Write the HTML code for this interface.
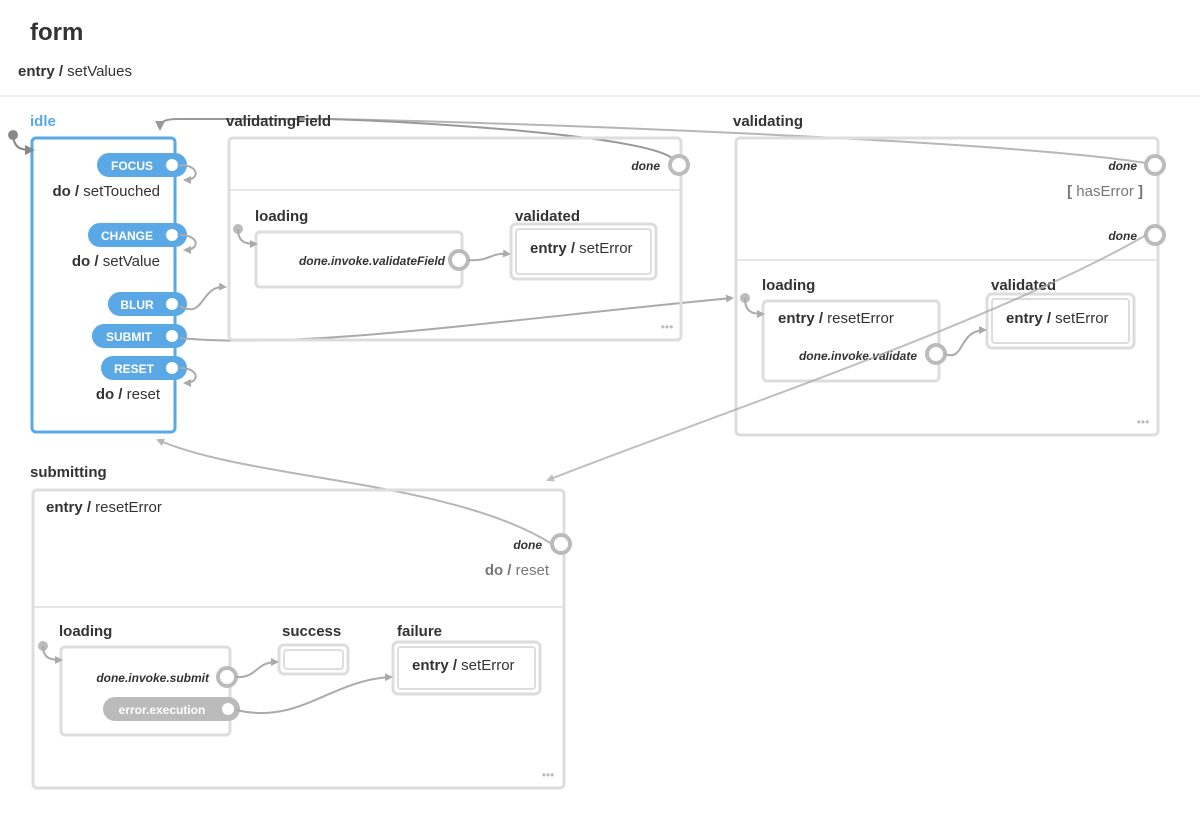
<!DOCTYPE html>
<html><head><meta charset="utf-8"><style>
body{margin:0;background:#fff;width:1200px;height:821px;overflow:hidden;font-family:"Liberation Sans",sans-serif}
svg text{font-family:"Liberation Sans",sans-serif}
</style></head><body>
<svg width="1200" height="821" viewBox="0 0 1200 821" xmlns="http://www.w3.org/2000/svg">
<defs>
<marker id="a" markerWidth="8" markerHeight="8" refX="6" refY="4" orient="auto" markerUnits="userSpaceOnUse"><path d="M0,0 L8,4 L0,8z" fill="#aaa"/></marker>
<marker id="ad" markerWidth="10" markerHeight="10" refX="7" refY="5" orient="auto" markerUnits="userSpaceOnUse"><path d="M0,0 L10,5 L0,10z" fill="#888"/></marker>
</defs>
<text x="30" y="40" font-size="24" font-weight="bold" fill="#333">form</text>
<text x="18" y="76" font-size="15" fill="#333"><tspan font-weight="bold">entry /</tspan> setValues</text>
<line x1="0" y1="96" x2="1200" y2="96" stroke="#ddd" stroke-width="1"/>

<g stroke="#aaa" stroke-width="2" fill="none" opacity="0.85">
<path d="M1146,163 C1000,140 500,122 330,119"/>
<path d="M672,158 C640,135 420,122 330,119 L178,119 C164,119 160,122 160,128" stroke="#888" marker-end="url(#ad)"/>
<path d="M552,544 C450,480 250,480 158,440" marker-end="url(#a)"/>
</g>

<!-- idle -->
<text x="30" y="126" font-size="15" font-weight="bold" fill="#5aa9e6">idle</text>
<rect x="32" y="138" width="143" height="294" rx="4" fill="#fff" stroke="#5aa9e6" stroke-width="3"/>
<circle cx="13" cy="135" r="5" fill="#888"/>
<path d="M13,135 C14,148 20,150 32,150" stroke="#888" stroke-width="2" fill="none" marker-end="url(#ad)"/>
<g font-size="12" font-weight="bold" fill="#fff" text-anchor="middle">
<rect x="97" y="153" width="90" height="24" rx="12" fill="#5aa9e6"/><text x="132" y="170">FOCUS</text>
<rect x="88" y="223" width="99" height="24" rx="12" fill="#5aa9e6"/><text x="127" y="240">CHANGE</text>
<rect x="108" y="292" width="79" height="24" rx="12" fill="#5aa9e6"/><text x="137" y="309">BLUR</text>
<rect x="92" y="324" width="95" height="24" rx="12" fill="#5aa9e6"/><text x="129" y="341">SUBMIT</text>
<rect x="101" y="356" width="86" height="24" rx="12" fill="#5aa9e6"/><text x="134" y="373">RESET</text>
</g>
<g fill="#fff"><circle cx="172" cy="165" r="6"/><circle cx="172" cy="235" r="6"/><circle cx="172" cy="304" r="6"/><circle cx="172" cy="336" r="6"/><circle cx="172" cy="368" r="6"/></g>
<g font-size="15" fill="#333" text-anchor="end">
<text x="160" y="196"><tspan font-weight="bold">do /</tspan> setTouched</text>
<text x="160" y="266"><tspan font-weight="bold">do /</tspan> setValue</text>
<text x="160" y="399"><tspan font-weight="bold">do /</tspan> reset</text>
</g>
<g stroke="#aaa" stroke-width="2" fill="none">
<path d="M180,165 C200,165 200,180 185,180" marker-end="url(#a)"/>
<path d="M180,235 C200,235 200,250 185,250" marker-end="url(#a)"/>
<path d="M180,368 C200,368 200,383 185,383" marker-end="url(#a)"/>
<path d="M180,306 C205,320 200,285 225,287" marker-end="url(#a)"/>
<path d="M180,338 C300,350 500,320 732,298" marker-end="url(#a)"/>
</g>

<!-- validatingField -->
<text x="226" y="126" font-size="15" font-weight="bold" fill="#333">validatingField</text>
<rect x="229" y="138" width="452" height="202" rx="4" fill="none" stroke="#ddd" stroke-width="3"/>
<line x1="229" y1="190" x2="681" y2="190" stroke="#ddd" stroke-width="1.5"/>
<text x="660" y="170" font-size="12" font-weight="bold" font-style="italic" fill="#333" text-anchor="end">done</text>
<circle cx="679" cy="165" r="9" fill="#fff" stroke="#bbb" stroke-width="4"/>
<text x="255" y="221" font-size="15" font-weight="bold" fill="#333">loading</text>
<rect x="256" y="232" width="206" height="55" rx="4" fill="#fff" stroke="#ddd" stroke-width="3"/>
<text x="445" y="265" font-size="12" font-weight="bold" font-style="italic" fill="#333" text-anchor="end">done.invoke.validateField</text>
<circle cx="459" cy="260" r="9" fill="#fff" stroke="#bbb" stroke-width="4"/>
<text x="515" y="221" font-size="15" font-weight="bold" fill="#333">validated</text>
<rect x="511" y="224" width="145" height="55" rx="5" fill="#fff" stroke="#ddd" stroke-width="3"/>
<rect x="516" y="229" width="135" height="45" rx="3" fill="none" stroke="#ddd" stroke-width="2"/>
<text x="530" y="253" font-size="15" fill="#333"><tspan font-weight="bold">entry /</tspan> setError</text>
<text x="667" y="331" font-size="12" fill="#bbb" text-anchor="middle">•••</text>
<circle cx="238" cy="229" r="5" fill="#bbb"/>
<g stroke="#aaa" stroke-width="2" fill="none">
<path d="M238,229 C238,242 245,244 256,244" marker-end="url(#a)"/>
<path d="M468,260 C490,262 490,252 509,254" marker-end="url(#a)"/>
</g>

<!-- validating -->
<text x="733" y="126" font-size="15" font-weight="bold" fill="#333">validating</text>
<rect x="736" y="138" width="422" height="297" rx="4" fill="none" stroke="#ddd" stroke-width="3"/>
<line x1="736" y1="260" x2="1158" y2="260" stroke="#ddd" stroke-width="1.5"/>
<text x="1137" y="170" font-size="12" font-weight="bold" font-style="italic" fill="#333" text-anchor="end">done</text>
<circle cx="1155" cy="165" r="9" fill="#fff" stroke="#bbb" stroke-width="4"/>
<text x="1143" y="196" font-size="15" fill="#777" text-anchor="end"><tspan font-weight="bold">[</tspan> hasError <tspan font-weight="bold">]</tspan></text>
<text x="1137" y="240" font-size="12" font-weight="bold" font-style="italic" fill="#333" text-anchor="end">done</text>
<circle cx="1155" cy="235" r="9" fill="#fff" stroke="#bbb" stroke-width="4"/>
<text x="762" y="290" font-size="15" font-weight="bold" fill="#333">loading</text>
<rect x="763" y="301" width="176" height="80" rx="4" fill="#fff" stroke="#ddd" stroke-width="3"/>
<text x="778" y="323" font-size="15" fill="#333"><tspan font-weight="bold">entry /</tspan> resetError</text>
<text x="917" y="360" font-size="12" font-weight="bold" font-style="italic" fill="#333" text-anchor="end">done.invoke.validate</text>
<circle cx="936" cy="354" r="9" fill="#fff" stroke="#bbb" stroke-width="4"/>
<text x="991" y="290" font-size="15" font-weight="bold" fill="#333">validated</text>
<rect x="987" y="294" width="147" height="54" rx="5" fill="#fff" stroke="#ddd" stroke-width="3"/>
<rect x="992" y="299" width="137" height="44" rx="3" fill="none" stroke="#ddd" stroke-width="2"/>
<text x="1006" y="323" font-size="15" fill="#333"><tspan font-weight="bold">entry /</tspan> setError</text>
<text x="1143" y="426" font-size="12" fill="#bbb" text-anchor="middle">•••</text>
<circle cx="745" cy="298" r="5" fill="#bbb"/>
<g stroke="#aaa" stroke-width="2" fill="none">
<path d="M745,298 C745,312 752,314 763,314" marker-end="url(#a)"/>
<path d="M945,354 C965,362 958,330 985,330" marker-end="url(#a)"/>
</g>

<!-- submitting -->
<text x="30" y="477" font-size="15" font-weight="bold" fill="#333">submitting</text>
<rect x="33" y="490" width="531" height="298" rx="4" fill="none" stroke="#ddd" stroke-width="3"/>
<line x1="33" y1="607" x2="564" y2="607" stroke="#ddd" stroke-width="1.5"/>
<text x="46" y="512" font-size="15" fill="#333"><tspan font-weight="bold">entry /</tspan> resetError</text>
<text x="542" y="549" font-size="12" font-weight="bold" font-style="italic" fill="#333" text-anchor="end">done</text>
<circle cx="561" cy="544" r="9" fill="#fff" stroke="#bbb" stroke-width="4"/>
<text x="549" y="575" font-size="15" fill="#777" text-anchor="end"><tspan font-weight="bold">do /</tspan> reset</text>
<text x="59" y="636" font-size="15" font-weight="bold" fill="#333">loading</text>
<rect x="61" y="647" width="169" height="88" rx="4" fill="#fff" stroke="#ddd" stroke-width="3"/>
<text x="209" y="682" font-size="12" font-weight="bold" font-style="italic" fill="#333" text-anchor="end">done.invoke.submit</text>
<circle cx="227" cy="677" r="9" fill="#fff" stroke="#bbb" stroke-width="4"/>
<rect x="103" y="697" width="137" height="24" rx="12" fill="#bbb"/>
<text x="162" y="714" font-size="12" font-weight="bold" fill="#fff" text-anchor="middle">error.execution</text>
<circle cx="228" cy="709" r="6" fill="#fff"/>
<text x="282" y="636" font-size="15" font-weight="bold" fill="#333">success</text>
<rect x="279" y="645" width="69" height="29" rx="5" fill="#fff" stroke="#ddd" stroke-width="3"/>
<rect x="284" y="650" width="59" height="19" rx="3" fill="none" stroke="#ddd" stroke-width="2"/>
<text x="397" y="636" font-size="15" font-weight="bold" fill="#333">failure</text>
<rect x="393" y="642" width="147" height="52" rx="5" fill="#fff" stroke="#ddd" stroke-width="3"/>
<rect x="398" y="647" width="137" height="42" rx="3" fill="none" stroke="#ddd" stroke-width="2"/>
<text x="412" y="670" font-size="15" fill="#333"><tspan font-weight="bold">entry /</tspan> setError</text>
<text x="548" y="779" font-size="12" fill="#bbb" text-anchor="middle">•••</text>
<circle cx="43" cy="646" r="5" fill="#bbb"/>
<g stroke="#aaa" stroke-width="2" fill="none">
<path d="M43,646 C43,658 50,660 61,660" marker-end="url(#a)"/>
<path d="M236,677 C258,678 255,662 277,662" marker-end="url(#a)"/>
<path d="M236,710 C300,725 330,680 391,677" marker-end="url(#a)"/>
</g>

<path d="M1146,235 C1000,320 700,420 548,480" stroke="#aaa" stroke-width="2" fill="none" opacity="0.75" marker-end="url(#a)"/>
</svg>
</body></html>
